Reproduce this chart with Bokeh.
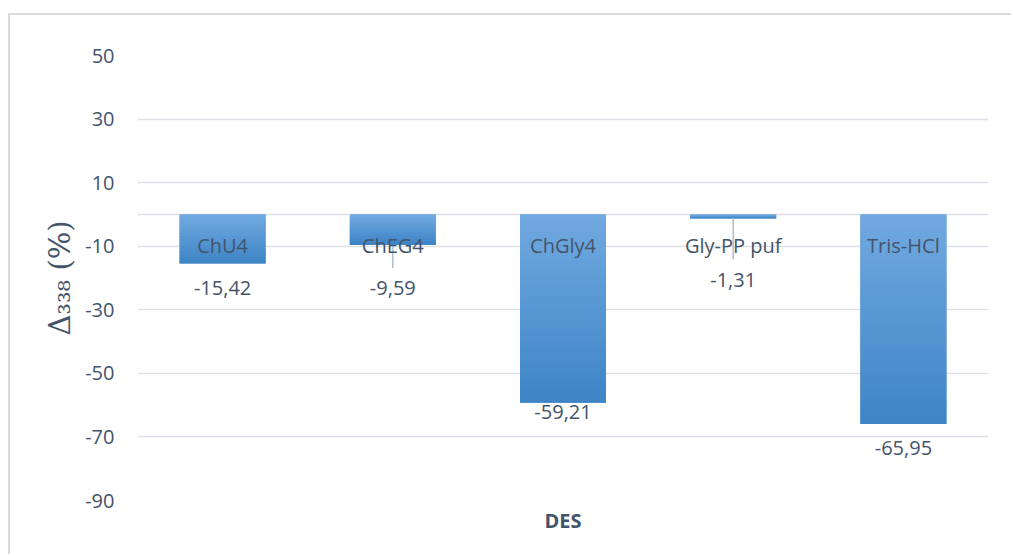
import numpy as np
from bokeh.plotting import figure
from bokeh.models import Range1d, FixedTicker, Span
from bokeh.embed import file_html
from bokeh.resources import INLINE
from bokeh.core.properties import value

# ---- data ----
categories = ["ChU4", "ChEG4", "ChGly4", "Gly-PP puf", "Tris-HCl"]
delta_338 = [-15.42, -9.59, -59.21, -1.31, -65.95]
error_minus = [0.0, 7.3, 0.0, 12.9, 0.0]
y_ticks = [-90, -70, -50, -30, -10, 10, 30, 50]
y_tick_labels = ["-90", "-70", "-50", "-30", "-10", "10", "30", "50"]

# ---- style / layout ----
label_offsets_px = [25, 43.5, 9, 61, 23.5]
TEXT = "#44546A"
GRID = "#dde1e7"
FONT = "Open Sans"
TOP_COL = np.array([0x71, 0xa9, 0xe0])
BOT_COL = np.array([0x3e, 0x85, 0xc6])
MID_COL = "#5897d3"

W, H = 1003, 541
FL, FR, FT, FB = 127, 25, 40, 56   # frame borders (px)

p = figure(width=W, height=H, output_backend="svg", toolbar_location=None,
           x_range=Range1d(0, len(categories)), y_range=Range1d(-90, 50),
           min_border_left=FL, min_border_right=FR, min_border_top=FT,
           min_border_bottom=FB)
p.styles = {"border-top": "2px solid #d9dde3", "border-left": "2px solid #d9dde3",
            "margin-top": "13px", "margin-left": "8px"}
p.outline_line_color = None
p.background_fill_color = "white"
p.border_fill_color = "white"

xs = [i + 0.5 for i in range(len(categories))]
bw = 0.505

# base bars
p.vbar(x=xs, top=[0] * len(xs), bottom=delta_338, width=bw,
       fill_color=MID_COL, line_color=None)

# gradient overlay built from strips of each value
L, R, T, B, C = [], [], [], [], []
for x, v in zip(xs, delta_338):
    n = max(3, int(abs(v) * 445 / 140 / 3))
    for k in range(n):
        t = k / max(n - 1, 1)
        col = TOP_COL * (1 - t) + BOT_COL * t
        L.append(x - bw / 2); R.append(x + bw / 2)
        T.append(v * k / n); B.append(v * min(k + 1.6, n) / n)
        C.append("#%02x%02x%02x" % tuple(int(round(c)) for c in col))
p.quad(left=L, right=R, top=T, bottom=B, fill_color=C, line_color=None)

# zero line
zero = Span(location=0, dimension="width", line_color=GRID, line_width=1.5, level="underlay")
p.add_layout(zero)

# error bars (minus direction)
ex = [x for x, e in zip(xs, error_minus) if e > 0]
ey0 = [v for v, e in zip(delta_338, error_minus) if e > 0]
ey1 = [v - e for v, e in zip(delta_338, error_minus) if e > 0]
p.segment(x0=ex, y0=ey0, x1=ex, y1=ey1, line_color="#b4bdcb", line_width=1.5)

# category labels below zero line
p.text(x=xs, y=[0] * len(xs), text=categories, y_offset=31,
       text_align="center", text_baseline="middle",
       text_font=value(FONT), text_font_size="20px", text_color=TEXT)

# value labels
vals_txt = [("%.2f" % v).replace(".", ",") for v in delta_338]
p.text(x=xs, y=delta_338, text=vals_txt, y_offset=label_offsets_px,
       text_align="center", text_baseline="middle",
       text_font=value(FONT), text_font_size="20px", text_color=TEXT)

# axes
p.yaxis.ticker = FixedTicker(ticks=y_ticks)
p.yaxis.major_label_overrides = {t: s for t, s in zip(y_ticks, y_tick_labels)}
p.ygrid.ticker = FixedTicker(ticks=y_ticks)
p.ygrid.grid_line_color = GRID
p.ygrid.grid_line_width = 1.5
p.xgrid.grid_line_color = None
p.yaxis.axis_line_color = None
p.yaxis.major_tick_line_color = None
p.yaxis.minor_tick_line_color = None
p.yaxis.major_tick_out = 0
p.yaxis.minor_tick_out = 0
p.yaxis.major_label_standoff = 23
p.yaxis.major_label_text_font = FONT
p.yaxis.major_label_text_font_size = "20px"
p.yaxis.major_label_text_color = TEXT
p.yaxis.axis_label = "Δ₃₃₈ (%)"
p.yaxis.axis_label_text_font = "DejaVu Serif"
p.yaxis.axis_label_text_font_style = "normal"
p.yaxis.axis_label_text_font_size = "29px"
p.yaxis.axis_label_text_color = TEXT
p.yaxis.axis_label_standoff = 5

p.xaxis.ticker = FixedTicker(ticks=[])
p.xaxis.axis_line_color = None
p.xaxis.major_tick_line_color = None
p.xaxis.minor_tick_line_color = None
p.xaxis.major_tick_out = 0
p.xaxis.major_label_text_font_size = "0px"
p.xaxis.axis_label = "DES"
p.xaxis.axis_label_text_font = FONT
p.xaxis.axis_label_text_font_style = "bold"
p.xaxis.axis_label_text_font_size = "20px"
p.xaxis.axis_label_text_color = TEXT
p.xaxis.axis_label_standoff = 6

open("out.html", "w").write(file_html(p, INLINE))
